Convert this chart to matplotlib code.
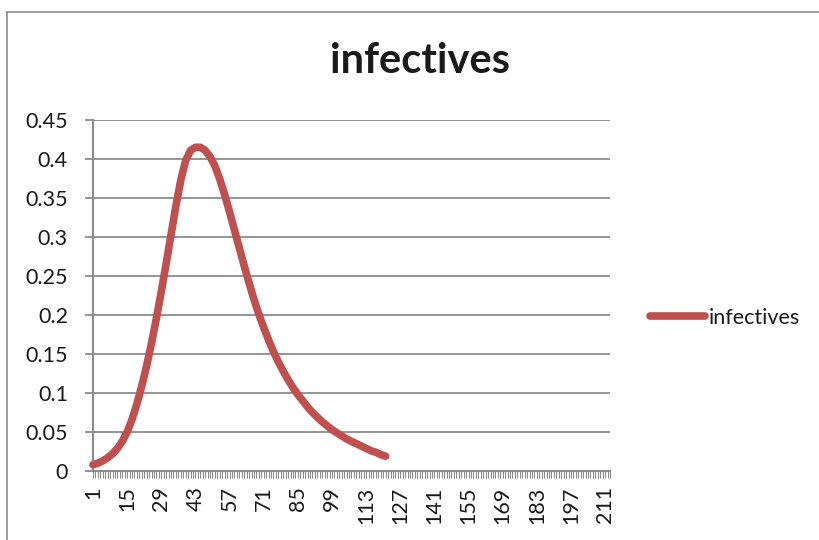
import numpy as np
import matplotlib.pyplot as plt
from matplotlib.lines import Line2D

plt.rcParams["font.family"] = ["Lato", "DejaVu Sans"]

# -- Colours ------------------------------------------------
RED = "#C0504D"   # infectives series
GRID = "#8C8C8C"  # gridlines / axes
TEXT = "#1A1A1A"

# -- Data: infectives fraction, sampled every 2 days --------
days = np.arange(1, 122, 2)
infectives = [
    0.008, 0.010, 0.013, 0.017, 0.022, 0.029, 0.038, 0.050, 0.066, 0.086,
    0.109, 0.135, 0.164, 0.196, 0.230, 0.266, 0.303, 0.340, 0.373, 0.398,
    0.411, 0.415, 0.415, 0.411, 0.403, 0.391, 0.374, 0.354, 0.332, 0.309,
    0.286, 0.263, 0.241, 0.220, 0.201, 0.184, 0.168, 0.153, 0.140, 0.128,
    0.117, 0.107, 0.098, 0.090, 0.082, 0.075, 0.069, 0.063, 0.058, 0.053,
    0.049, 0.045, 0.041, 0.038, 0.035, 0.032, 0.029, 0.026, 0.024, 0.021,
    0.019,
]
n_days = 213
x_labels = np.arange(1, 212, 14)
y_ticks = np.arange(0, 0.451, 0.05)
y_labels = ["0", "0.05", "0.1", "0.15", "0.2", "0.25", "0.3", "0.35", "0.4", "0.45"]


def main():
    fig = plt.figure(figsize=(8.2, 5.4), dpi=100)
    ax = fig.add_axes([93 / 820, 1 - 471 / 540, 517 / 820, 351 / 540])

    ax.plot(days, infectives, color=RED, lw=5.5, solid_capstyle="round",
            solid_joinstyle="round", label="infectives", clip_on=False, zorder=3)

    ax.set_xlim(1, n_days - 0.3)
    ax.set_ylim(0, 0.45)
    ax.set_yticks(y_ticks)
    ax.set_yticklabels(y_labels)
    ax.set_xticks(x_labels)
    ax.set_xticklabels([str(v) for v in x_labels], rotation=90)
    ax.set_xticks(np.arange(1, n_days + 1), minor=True)

    ax.grid(axis="y", color=GRID, lw=1.3)
    ax.set_axisbelow(True)
    for side in ["top", "right"]:
        ax.spines[side].set_visible(False)
    for side in ["left", "bottom"]:
        ax.spines[side].set_color(GRID)
        ax.spines[side].set_linewidth(1.5)

    ax.tick_params(axis="y", length=6, width=1.3, color=GRID, pad=12,
                   labelsize=15.5, labelcolor=TEXT)
    ax.tick_params(axis="x", which="both", length=5, width=0.8, color=GRID,
                   pad=6, labelsize=15.5, labelcolor=TEXT)

    leg = ax.legend(loc="center left", bbox_to_anchor=(1.078, 0.436), frameon=False,
                    fontsize=15.5, handlelength=2.55, handletextpad=0.15,
                    borderpad=0, borderaxespad=0)
    for t in leg.get_texts():
        t.set_color(TEXT)

    fig.text(420 / 820, 1 - 61 / 540, "infectives", ha="center", va="center",
             fontsize=30, fontweight="bold", color=TEXT)

    # outer chart frame (top and left edges)
    fy = 1 - 12 / 540
    fx = 7 / 820
    fig.add_artist(Line2D([fx, 1], [fy, fy], color="#8C8C8C", lw=1.2))
    fig.add_artist(Line2D([fx, fx], [0, fy], color="#8C8C8C", lw=1.2))

    fig.savefig("out.png", dpi=100)


if __name__ == "__main__":
    main()
